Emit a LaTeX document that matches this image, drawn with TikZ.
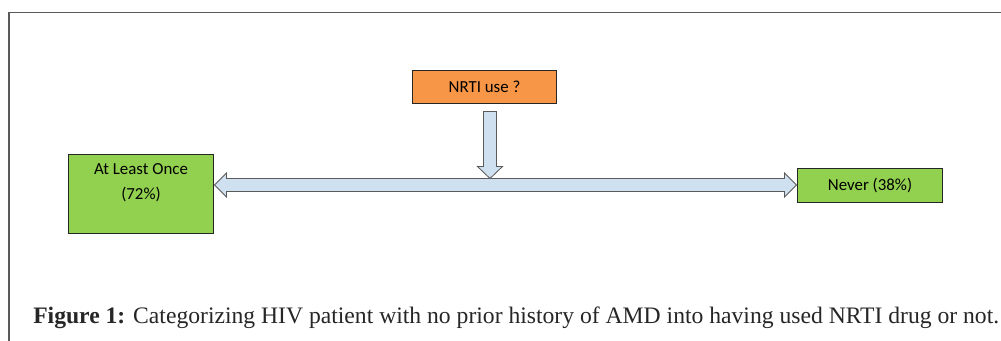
\documentclass[tikz,border=0pt]{standalone}
\usepackage{fontspec}
\setmainfont{Liberation Serif}
\newfontfamily\boxfont{Carlito}
\usepackage{tikz}
\usetikzlibrary{calc}
\definecolor{nrtiorange}{HTML}{F79646}
\definecolor{boxgreen}{HTML}{92D050}
\definecolor{arrowblue}{HTML}{CFE0F1}
\definecolor{framegray}{HTML}{5A5A5A}
\begin{document}
\begin{tikzpicture}[x=0.025cm, y=-0.025cm,
		choicebox/.style={draw=black!85, line width=0.7pt, align=center, inner sep=0pt,
			font=\boxfont\fontsize{12}{17.7}\selectfont},
		blockarrow/.style={draw=framegray, fill=arrowblue, line width=0.6pt, line join=miter}]
			\useasboundingbox (0,0) rectangle (1001,341);
			\draw[framegray, line width=1.1pt] (9,341) -- (9,12.5) -- (1001,12.5);
			\node[choicebox, fill=nrtiorange, minimum width=3.575cm, minimum height=0.825cm]
				(nrti) at (484.5,86.5) {NRTI use ?};
			\node[choicebox, fill=boxgreen, minimum width=3.6cm, minimum height=1.95cm]
				(once) at (141,194) {At Least Once\\(72\%)\\~};
			\node[choicebox, fill=boxgreen, minimum width=3.6cm, minimum height=0.85cm]
				(never) at (870,185) {Never (38\%)};
			\coordinate (ltip) at ($(once.east |- never.west)+(1,0)$);
			\coordinate (rtip) at ($(never.west)+(-1,0)$);
			\coordinate (vtop) at ($(nrti.south)+(5.5,8)$);
			\coordinate (vtip) at ($(vtop |- ltip)+(0,-6.5)$);
			\draw[blockarrow] 
				(ltip) -- ++(12,-12) -- ++(0,5.5) 
				-- ($(rtip)+(-12,-6.5)$) -- ++(0,-5.5) 
				-- (rtip) -- ++(-12,12) -- ++(0,-5.5) 
				-- ($(ltip)+(12,6.5)$) -- ++(0,5.5) -- cycle;
			\draw[blockarrow] 
				($(vtop)+(-6.5,0)$) -- ($(vtip)+(-6.5,-12)$) -- ++(-6,0) 
				-- (vtip) -- ++(12.5,-12) -- ++(-6,0) 
				-- ($(vtop)+(6.5,0)$) -- cycle;
			\node[anchor=base west, inner sep=0pt, text=black!85, font=\fontsize{16.8}{19}\selectfont]
				(caption) at (33,323) {\textbf{Figure 1:} Categorizing HIV patient with no prior history of AMD into having used NRTI drug or not.};
		\end{tikzpicture}
\end{document}
